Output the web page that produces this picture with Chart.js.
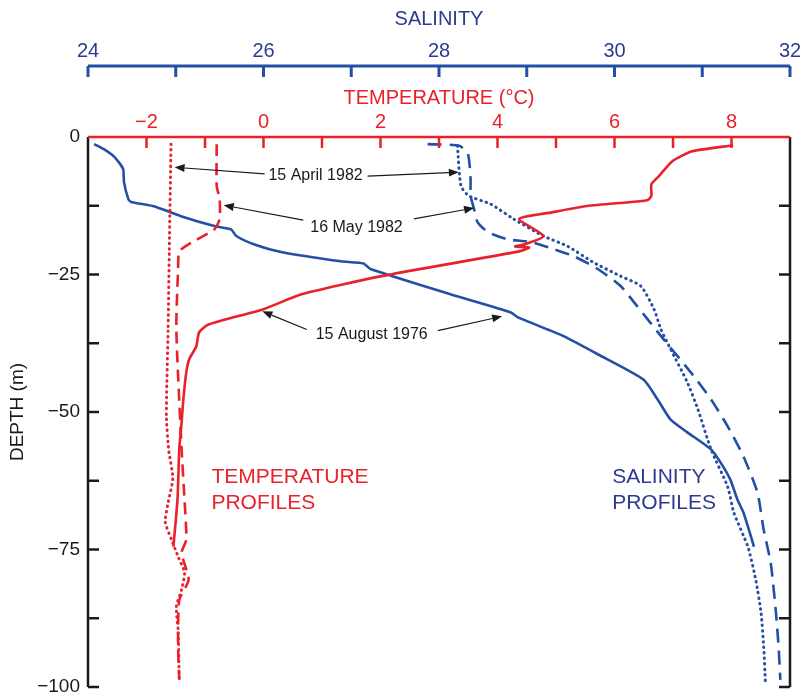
<!DOCTYPE html>
<html>
<head>
<meta charset="utf-8">
<script src="https://cdn.jsdelivr.net/npm/chart.js@4.4.1/dist/chart.umd.min.js"></script>
<style>
html, body { margin: 0; padding: 0; background: #fff; }
canvas { display: block; }
</style>
</head>
<body>
<canvas id="profileChart" width="801" height="692"></canvas>
<script>
// temperature profiles (deg C) against depth (m)
const tempAug1976Depth = [-1.5, -2.6, -4.4, -7.1, -8.6, -10.7, -11.5, -12.0, -12.6, -13.7, -14.9, -18.0, -19.5, -19.9, -20.1, -20.8, -25.3, -28.6, -31.3, -34.1, -35.5, -38.1, -40.4, -42.8, -47.7, -51.9, -56.8, -65.9, -74.5];
const tempAug1976 = [8.03, 7.33, 6.99, 6.76, 6.63, 6.63, 6.56, 6.08, 5.50, 4.93, 4.37, 4.79, 4.47, 4.30, 4.54, 4.37, 2.02, 0.65, 0.0, -0.94, -1.10, -1.15, -1.27, -1.32, -1.37, -1.40, -1.44, -1.47, -1.54];

const tempApr1982Depth = [-1.3, -20.4, -35.0, -50.8, -57.0, -62.0, -67.0, -70.0, -73.0, -76.3, -79.2, -82.3, -85.4, -89.6, -98.7];
const tempApr1982 = [-1.58, -1.61, -1.63, -1.66, -1.62, -1.55, -1.64, -1.68, -1.58, -1.46, -1.35, -1.40, -1.49, -1.46, -1.44];

const tempMay1982Depth = [-1.3, -8.9, -11.3, -14.9, -16.8, -19.5, -20.8, -24.0, -35.0, -56.8, -66.0, -73.2, -75.6, -80.5, -84.2, -92.7, -98.7];
const tempMay1982 = [-0.80, -0.80, -0.75, -0.75, -0.84, -1.28, -1.44, -1.46, -1.49, -1.40, -1.35, -1.32, -1.40, -1.28, -1.44, -1.46, -1.44];

// salinity profiles against depth (m)
const salAug1976Depth = [-1.3, -2.2, -3.6, -5.8, -8.2, -11.3, -11.8, -12.6, -14.4, -16.2, -16.8, -18.0, -19.5, -20.9, -22.6, -23.0, -24.0, -28.6, -31.9, -32.8, -35.0, -36.2, -39.5, -44.1, -47.7, -51.4, -53.7, -56.8, -59.2, -62.3, -65.9, -68.3, -74.5];
const salAug1976 = [24.07, 24.18, 24.30, 24.40, 24.41, 24.46, 24.49, 24.75, 25.06, 25.44, 25.63, 25.69, 25.89, 26.20, 26.88, 27.14, 27.22, 28.13, 28.82, 28.90, 29.24, 29.42, 29.81, 30.33, 30.49, 30.64, 30.83, 31.10, 31.21, 31.32, 31.40, 31.47, 31.59];

const salApr1982Depth = [-1.6, -8.9, -10.7, -12.2, -14.9, -18.0, -19.9, -22.8, -25.3, -27.1, -31.3, -35.0, -38.6, -44.6, -49.5, -56.8, -63.6, -68.3, -74.5, -80.5, -86.5, -92.7, -99.3];
const salApr1982 = [28.21, 28.25, 28.34, 28.59, 28.85, 29.19, 29.47, 29.76, 30.07, 30.30, 30.45, 30.53, 30.64, 30.83, 30.95, 31.10, 31.29, 31.36, 31.52, 31.61, 31.67, 31.70, 31.72];

const salMay1982Depth = [-1.3, -1.6, -3.1, -7.7, -10.7, -13.1, -15.5, -17.3, -18.6, -19.1, -20.4, -21.7, -24.0, -27.1, -30.8, -36.8, -42.8, -47.7, -52.6, -58.1, -64.7, -71.4, -77.4, -86.5, -92.7, -98.7];
const salMay1982 = [27.87, 28.23, 28.33, 28.36, 28.36, 28.40, 28.44, 28.56, 28.78, 29.05, 29.31, 29.54, 29.81, 30.07, 30.26, 30.56, 30.87, 31.10, 31.29, 31.47, 31.63, 31.70, 31.78, 31.84, 31.87, 31.89];

// axis ticks
const tempLabels = [-2, 0, 2, 4, 6, 8];
const tempTicks = [-2, -1, 0, 1, 2, 3, 4, 5, 6, 7, 8];
const salLabels = [24, 26, 28, 30, 32];
const salTicks = [24, 25, 26, 27, 28, 29, 30, 31, 32];
const depthLabels = [0, -25, -50, -75, -100];
const depthTicks = [-12.5, -25, -37.5, -50, -62.5, -75, -87.5, -100];

const RED = '#e8212b';
const BLUE = '#2350a5';
const NAVY = '#2e3a92';
const FONT = '"Liberation Sans", Arial, sans-serif';

const pts = (xs, ds) => xs.map((v, i) => ({ x: v, y: ds[i] }));
const minus = v => (v < 0 ? '\u2212' + Math.abs(v) : String(v));

// callouts, placed in temperature / depth units
const callouts = [
    { text: '15 April 1982', at: [0.89, -7.1],
      arrows: [[0.02, -6.7, -1.52, -5.5], [1.78, -7.1, 3.34, -6.4]] },
    { text: '16 May 1982', at: [1.59, -16.4],
      arrows: [[0.68, -15.1, -0.68, -12.4], [2.57, -14.9, 3.60, -12.9]] },
    { text: '15 August 1976', at: [1.85, -35.9],
      arrows: [[0.74, -35.0, -0.02, -31.7], [2.98, -35.2, 4.08, -32.6]] }
];
const profileNotes = [
    { lines: ['TEMPERATURE', 'PROFILES'], at: [-0.89, -61.9], color: RED },
    { lines: ['SALINITY', 'PROFILES'], at: [5.96, -61.9], color: NAVY }
];

const framePlugin = {
    id: 'frame',
    afterDatasetsDraw(chart) {
        const { ctx, chartArea: a, scales } = chart;
        const xT = scales.xT, xS = scales.xS, y = scales.y;
        ctx.save();
        ctx.lineCap = 'butt';

        // depth axes, ticks pointing inward
        ctx.strokeStyle = '#1b1b1b';
        ctx.lineWidth = 2.5;
        ctx.beginPath();
        ctx.moveTo(a.left, a.top);
        ctx.lineTo(a.left, a.bottom);
        ctx.moveTo(a.right, a.top);
        ctx.lineTo(a.right, a.bottom);
        depthTicks.forEach(d => {
            const py = y.getPixelForValue(d);
            ctx.moveTo(a.left, py);
            ctx.lineTo(a.left + 11, py);
            ctx.moveTo(a.right, py);
            ctx.lineTo(a.right - 11, py);
        });
        ctx.stroke();

        // temperature axis
        ctx.strokeStyle = RED;
        ctx.beginPath();
        ctx.moveTo(a.left, a.top);
        ctx.lineTo(a.right, a.top);
        tempTicks.forEach(t => {
            const px = xT.getPixelForValue(t);
            ctx.moveTo(px, a.top);
            ctx.lineTo(px, a.top + 11);
        });
        ctx.stroke();

        // salinity axis
        const sy = xS.bottom - 14;
        ctx.strokeStyle = BLUE;
        ctx.lineWidth = 3;
        ctx.beginPath();
        ctx.moveTo(xS.getPixelForValue(24), sy);
        ctx.lineTo(xS.getPixelForValue(32), sy);
        salTicks.forEach(s => {
            const px = xS.getPixelForValue(s);
            ctx.moveTo(px, sy);
            ctx.lineTo(px, sy + 11);
        });
        ctx.stroke();
        ctx.restore();
    },
    afterDraw(chart) {
        const { ctx, scales } = chart;
        const xT = scales.xT, y = scales.y;
        ctx.save();
        ctx.fillStyle = '#1a1a1a';
        ctx.strokeStyle = '#1a1a1a';
        ctx.lineWidth = 1.2;
        ctx.font = '16px ' + FONT;
        ctx.textAlign = 'center';
        ctx.textBaseline = 'middle';
        callouts.forEach(c => {
            ctx.fillText(c.text, xT.getPixelForValue(c.at[0]), y.getPixelForValue(c.at[1]));
            c.arrows.forEach(ar => {
                const x0 = xT.getPixelForValue(ar[0]), y0 = y.getPixelForValue(ar[1]);
                const x1 = xT.getPixelForValue(ar[2]), y1 = y.getPixelForValue(ar[3]);
                const ang = Math.atan2(y1 - y0, x1 - x0);
                const hl = 10, hw = 4;
                const bx = x1 - hl * Math.cos(ang), by = y1 - hl * Math.sin(ang);
                ctx.beginPath();
                ctx.moveTo(x0, y0);
                ctx.lineTo(bx, by);
                ctx.stroke();
                ctx.beginPath();
                ctx.moveTo(x1, y1);
                ctx.lineTo(bx + hw * Math.sin(ang), by - hw * Math.cos(ang));
                ctx.lineTo(bx - hw * Math.sin(ang), by + hw * Math.cos(ang));
                ctx.closePath();
                ctx.fill();
            });
        });
        ctx.font = '21px ' + FONT;
        ctx.textAlign = 'left';
        profileNotes.forEach(n => {
            ctx.fillStyle = n.color;
            const px = xT.getPixelForValue(n.at[0]);
            n.lines.forEach((ln, i) => {
                ctx.fillText(ln, px, y.getPixelForValue(n.at[1]) + i * 26);
            });
        });
        ctx.restore();
    }
};

const line = (label, data, axis, color, dash) => ({
    label: label,
    data: data,
    xAxisID: axis,
    yAxisID: 'y',
    showLine: true,
    borderColor: color,
    backgroundColor: color,
    borderWidth: dash && dash[0] < 4 ? 3 : 2.6,
    borderDash: dash || [],
    borderCapStyle: dash && dash[0] < 4 ? 'round' : 'butt',
    pointRadius: 0,
    tension: 0.2
});

const ctx = document.getElementById('profileChart').getContext('2d');
const chart = new Chart(ctx, {
    type: 'scatter',
    data: {
        datasets: [
            line('Temperature 15 August 1976', pts(tempAug1976, tempAug1976Depth), 'xT', RED),
            line('Temperature 15 April 1982', pts(tempApr1982, tempApr1982Depth), 'xT', RED, [0.5, 5]),
            line('Temperature 16 May 1982', pts(tempMay1982, tempMay1982Depth), 'xT', RED, [12, 7]),
            line('Salinity 15 August 1976', pts(salAug1976, salAug1976Depth), 'xS', BLUE),
            line('Salinity 15 April 1982', pts(salApr1982, salApr1982Depth), 'xS', BLUE, [0.5, 5]),
            line('Salinity 16 May 1982', pts(salMay1982, salMay1982Depth), 'xS', BLUE, [14, 8])
        ]
    },
    options: {
        responsive: false,
        animation: false,
        layout: { padding: { left: 0, right: 11, top: 0, bottom: 5 } },
        plugins: {
            legend: { display: false },
            tooltip: { enabled: false }
        },
        scales: {
            y: {
                type: 'linear',
                position: 'left',
                min: -100,
                max: 0,
                afterBuildTicks: s => { s.ticks = depthLabels.map(v => ({ value: v })); },
                ticks: { color: '#1a1a1a', font: { family: FONT, size: 19 }, padding: 8, callback: v => minus(v) },
                grid: { display: false, drawTicks: false },
                border: { display: false },
                title: { display: true, text: 'DEPTH (m)', color: '#1a1a1a', font: { family: FONT, size: 19 }, padding: { top: 6, bottom: 0 } },
                afterFit: s => { s.width = 88; s.paddingTop = 0; s.paddingBottom = 0; }
            },
            xT: {
                type: 'linear',
                position: 'top',
                weight: 1,
                min: -3,
                max: 9,
                afterBuildTicks: s => { s.ticks = tempLabels.map(v => ({ value: v })); },
                ticks: { color: RED, font: { family: FONT, size: 20 }, padding: 3, maxRotation: 0, callback: v => minus(v) },
                grid: { display: false, drawTicks: false },
                border: { display: false },
                title: { display: true, text: 'TEMPERATURE (\u00b0C)', color: RED, font: { family: FONT, size: 20 }, padding: { top: 6, bottom: 0 } },
                afterFit: s => { s.height = 57; s.paddingLeft = 0; s.paddingRight = 0; }
            },
            xS: {
                type: 'linear',
                position: 'top',
                weight: 2,
                min: 24,
                max: 32,
                afterBuildTicks: s => { s.ticks = salLabels.map(v => ({ value: v })); },
                ticks: { color: NAVY, font: { family: FONT, size: 20 }, padding: 17, maxRotation: 0 },
                grid: { display: false, drawTicks: false },
                border: { display: false },
                title: { display: true, text: 'SALINITY', color: NAVY, font: { family: FONT, size: 20 }, padding: { top: 7, bottom: 0 } },
                afterFit: s => { s.height = 80; s.paddingLeft = 0; s.paddingRight = 0; }
            }
        }
    },
    plugins: [framePlugin]
});
</script>
</body>
</html>
